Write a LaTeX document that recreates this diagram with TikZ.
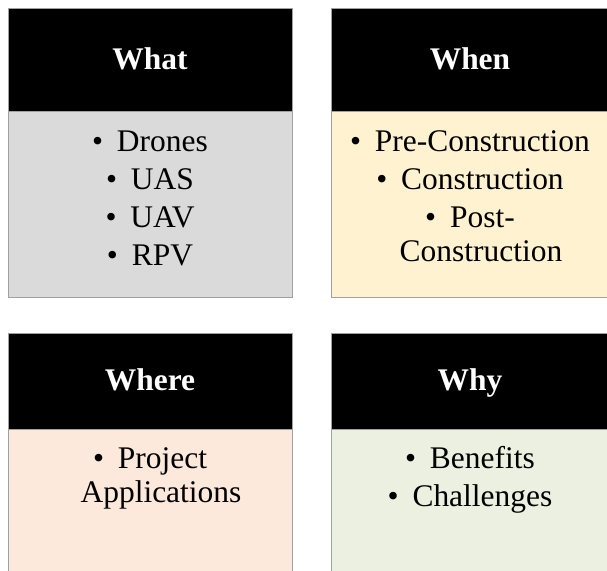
\documentclass[tikz,border=0pt]{standalone}
\usepackage{fontspec}
\setmainfont{Liberation Serif}
\newcommand{\bul}{\textbullet\hspace{0.44em}}

\begin{document}
\begin{tikzpicture}[x=0.75pt,y=0.75pt,yscale=-1,xscale=1,
    panel/.style={draw={rgb, 255:red, 160; green, 160; blue, 160}, line width=0.75pt},
    head/.style={panel, fill=black},
    headtext/.style={text=white, font=\fontsize{23.6}{28}\selectfont\bfseries, inner sep=0.75pt, anchor=base},
    itemtext/.style={font=\fontsize{23.6}{25.9}\selectfont, inner sep=0.75pt, anchor=base, align=center, text width=200pt}]
            \useasboundingbox (0,0) rectangle (607,571);
            %Shape: Rectangle [What body]
            \draw [panel][fill={rgb, 255:red, 218; green, 218; blue, 218 }] (8,111) rectangle (292,297);
            %Shape: Rectangle [What head]
            \draw [head] (8,8) rectangle (292,111);
            %Shape: Rectangle [When body]
            \draw [panel][fill={rgb, 255:red, 255; green, 242; blue, 208 }] (331,111) rectangle (612,297);
            %Shape: Rectangle [When head]
            \draw [head] (331,8) rectangle (612,111);
            %Shape: Rectangle [Where body]
            \draw [panel][fill={rgb, 255:red, 252; green, 233; blue, 219 }] (8,429) rectangle (292,580);
            %Shape: Rectangle [Where head]
            \draw [head] (8,333) rectangle (292,429);
            %Shape: Rectangle [Why body]
            \draw [panel][fill={rgb, 255:red, 236; green, 240; blue, 224 }] (331,429) rectangle (612,580);
            %Shape: Rectangle [Why head]
            \draw [head] (331,333) rectangle (612,429);

            % Text Node
            \draw (150,69.5) node [headtext] (what) {What};
            % Text Node
            \draw (470,69.5) node [headtext] (when) {When};
            % Text Node
            \draw (150,390.5) node [headtext] (where) {Where};
            % Text Node
            \draw (470,390.5) node [headtext] (why) {Why};
            % Text Node
            \draw (150,151) node [itemtext] (whatlist) {\bul Drones\\[2.6pt]\bul UAS\\[2.6pt]\bul UAV\\[2.6pt]\bul RPV};
            % Text Node
            \draw (470,151) node [itemtext] (whenlist) {\bul Pre-Construction\\[2.6pt]\bul Construction\\[2.6pt]\bul Post-\\\hspace*{16.5pt}Construction};
            % Text Node
            \draw (150,468) node [itemtext] (wherelist) {\bul Project\\\hspace*{16.5pt}Applications};
            % Text Node
            \draw (470,468) node [itemtext] (whylist) {\bul Benefits\\[2.6pt]\bul Challenges};
        \end{tikzpicture}
\end{document}
